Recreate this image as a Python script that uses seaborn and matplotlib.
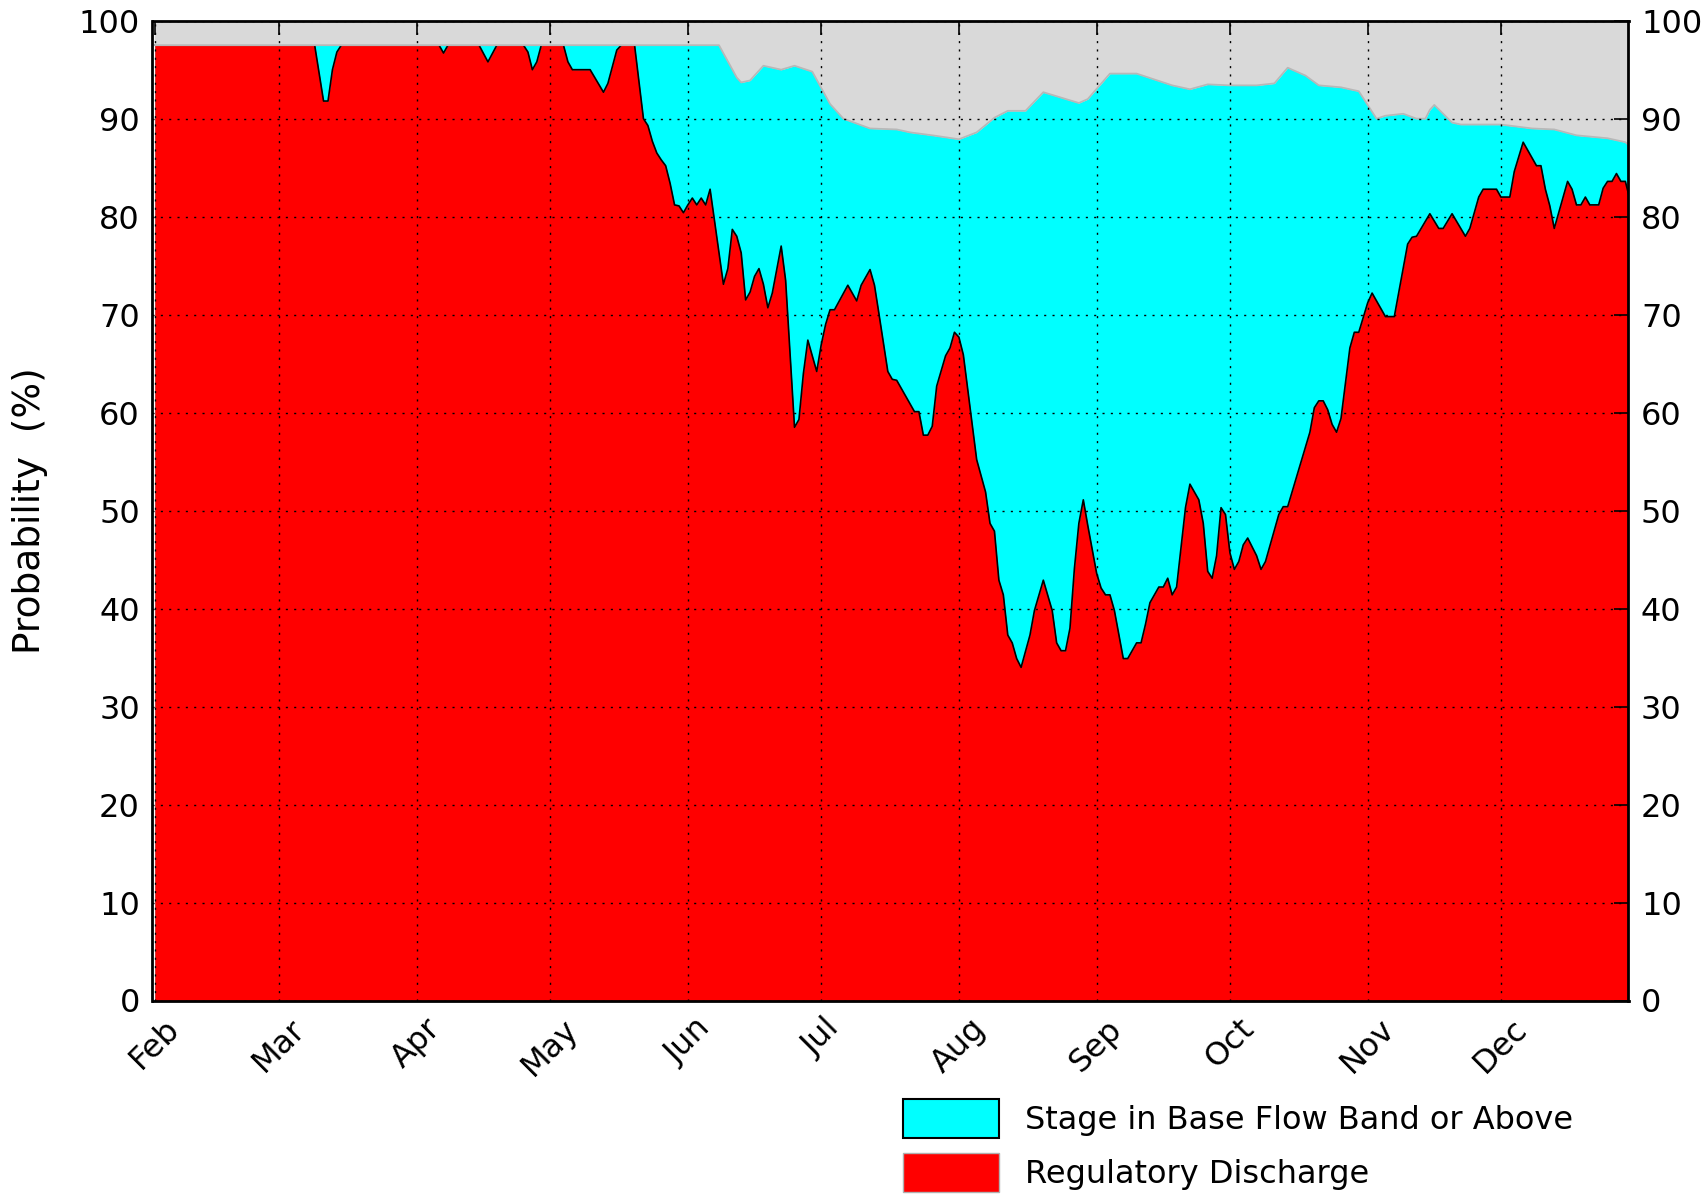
import numpy as np
import pandas as pd
import matplotlib
matplotlib.use("Agg")
import matplotlib.pyplot as plt
import seaborn as sns
from matplotlib.patches import Patch

YEAR = "2015-"

# Regulatory Discharge (top of red area), %
reg_dates = ["02-01", "03-09", "03-11", "03-12", "03-13", "03-14", "03-15",
             "04-06", "04-07", "04-08", "04-15", "04-17", "04-19",
             "04-25", "04-26", "04-27", "04-28", "04-29",
             "05-04", "05-05", "05-06", "05-10", "05-13", "05-14", "05-16", "05-17",
             "05-20", "05-22", "05-23", "05-24", "05-25", "05-26", "05-27", "05-28",
             "05-29", "05-30", "05-31", "06-01", "06-02", "06-03", "06-04", "06-05",
             "06-06", "06-08", "06-09", "06-10", "06-11", "06-12", "06-13", "06-14",
             "06-15", "06-16", "06-17", "06-18", "06-19", "06-20", "06-22", "06-23",
             "06-25", "06-26", "06-27", "06-28", "06-30", "07-01", "07-02", "07-03",
             "07-04", "07-07", "07-09", "07-10", "07-12", "07-13", "07-14", "07-16",
             "07-17", "07-18", "07-22", "07-23", "07-24", "07-25", "07-26", "07-27",
             "07-29", "07-30", "07-31", "08-01", "08-02", "08-05", "08-07", "08-08",
             "08-09", "08-10", "08-11", "08-12", "08-13", "08-14", "08-15", "08-17",
             "08-18", "08-20", "08-22", "08-23", "08-24", "08-25", "08-26", "08-27",
             "08-28", "08-29", "08-30", "09-01", "09-02", "09-03", "09-04", "09-05",
             "09-07", "09-08", "09-10", "09-11", "09-12", "09-13", "09-15", "09-16",
             "09-17", "09-18", "09-19", "09-21", "09-22", "09-24", "09-25", "09-26",
             "09-27", "09-28", "09-29", "09-30", "10-01", "10-02", "10-03", "10-04",
             "10-05", "10-07", "10-08", "10-09", "10-12", "10-13", "10-14", "10-19",
             "10-20", "10-21", "10-22", "10-23", "10-24", "10-25", "10-26", "10-28",
             "10-29", "10-30", "11-01", "11-02", "11-05", "11-07", "11-10", "11-11",
             "11-12", "11-15", "11-17", "11-18", "11-20", "11-23", "11-24", "11-26",
             "11-27", "11-30", "12-01", "12-03", "12-04", "12-06", "12-09", "12-10",
             "12-11", "12-12", "12-13", "12-16", "12-17", "12-18", "12-19", "12-20",
             "12-21", "12-23", "12-24", "12-25", "12-26", "12-27", "12-28", "12-29",
             "12-30"]
reg_values = [97.5, 97.5, 91.8, 91.8, 95.0, 96.8, 97.5,
              97.5, 96.7, 97.5, 97.5, 95.8, 97.5,
              97.5, 96.8, 95.0, 95.8, 97.5,
              97.5, 95.8, 95.0, 95.0, 92.7, 93.6, 97.0, 97.5,
              97.5, 90.0, 89.3, 87.7, 86.5, 85.8, 85.2, 83.4,
              81.2, 81.1, 80.4, 81.2, 81.9, 81.2, 81.9, 81.2,
              82.8, 76.3, 73.1, 74.7, 78.7, 78.0, 76.3, 71.5,
              72.3, 73.9, 74.7, 73.1, 70.7, 72.2, 77.0, 73.5,
              58.5, 59.3, 64.0, 67.4, 64.2, 66.9, 69.0, 70.5,
              70.5, 73.0, 71.4, 73.0, 74.6, 73.0, 70.1, 64.2,
              63.4, 63.3, 60.1, 60.1, 57.7, 57.7, 58.6, 62.7,
              65.8, 66.6, 68.2, 67.7, 65.9, 55.2, 51.9, 48.7,
              47.9, 42.9, 41.4, 37.3, 36.5, 34.9, 34.0, 37.3,
              39.8, 42.9, 39.8, 36.5, 35.7, 35.7, 38.0, 44.1,
              48.7, 51.1, 48.5, 43.6, 42.1, 41.4, 41.4, 39.8,
              34.9, 34.9, 36.5, 36.5, 38.4, 40.6, 42.2, 42.2,
              43.1, 41.4, 42.2, 50.3, 52.7, 51.1, 48.7, 43.8,
              43.1, 45.4, 50.3, 49.6, 45.7, 44.0, 44.8, 46.5,
              47.2, 45.4, 44.0, 44.8, 49.6, 50.4, 50.4, 58.0,
              60.5, 61.2, 61.2, 60.3, 58.8, 58.0, 59.4, 66.6,
              68.2, 68.2, 71.2, 72.2, 69.8, 69.8, 77.2, 77.9,
              78.0, 80.3, 78.8, 78.8, 80.3, 78.0, 78.8, 82.0,
              82.8, 82.8, 82.0, 82.0, 84.6, 87.6, 85.2, 85.2,
              82.8, 81.1, 78.8, 83.6, 82.8, 81.2, 81.2, 82.0,
              81.2, 81.2, 82.9, 83.6, 83.6, 84.4, 83.6, 83.6,
              81.8]

# Stage in Base Flow Band or Above (top of cyan area), %
stage_dates = ["02-01", "06-08", "06-12", "06-13", "06-15", "06-18", "06-22", "06-25",
               "06-29", "07-03", "07-06", "07-12", "07-18", "07-21", "07-26", "08-01",
               "08-05", "08-09", "08-12", "08-16", "08-20", "08-28", "08-30", "09-04",
               "09-10", "09-18", "09-22", "09-26", "10-01", "10-07", "10-11", "10-14",
               "10-18", "10-21", "10-26", "10-30", "11-03", "11-05", "11-09", "11-12",
               "11-14", "11-15", "11-16", "11-20", "11-22", "12-01", "12-08", "12-13",
               "12-18", "12-25", "12-29", "12-30"]
stage_values = [97.5, 97.5, 94.2, 93.7, 93.9, 95.4, 95.0, 95.4,
                94.8, 91.5, 90.0, 89.0, 88.9, 88.6, 88.3, 87.9,
                88.6, 90.1, 90.8, 90.8, 92.7, 91.6, 92.0, 94.6,
                94.6, 93.4, 93.0, 93.5, 93.4, 93.4, 93.6, 95.2,
                94.4, 93.4, 93.2, 92.8, 90.0, 90.3, 90.5, 90.0,
                90.0, 90.9, 91.4, 89.6, 89.4, 89.4, 89.0, 88.9,
                88.3, 88.0, 87.6, 87.2]

month_dates = ["02-01", "03-01", "04-01", "05-01", "06-01", "07-01", "08-01",
               "09-01", "10-01", "11-01", "12-01"]
month_labels = ["Feb", "Mar", "Apr", "May", "Jun", "Jul", "Aug", "Sep", "Oct", "Nov", "Dec"]
y_ticks = [0, 10, 20, 30, 40, 50, 60, 70, 80, 90, 100]
series_names = ["Stage in Base Flow Band or Above", "Regulatory Discharge"]

sns.set_theme(style="white")
plt.rcParams['font.family'] = ['DejaVu Sans']
plt.rcParams['text.color'] = 'black'
plt.rcParams['axes.labelcolor'] = 'black'
plt.rcParams['xtick.color'] = 'black'
plt.rcParams['ytick.color'] = 'black'
plt.rcParams['axes.linewidth'] = 2.0

rx = pd.to_datetime([YEAR + d for d in reg_dates])
ry = np.array(reg_values)
sx = pd.to_datetime([YEAR + d for d in stage_dates])
sy = np.array(stage_values)
mx = pd.to_datetime([YEAR + d for d in month_dates])

fig = plt.figure(figsize=(17.08, 11.94), dpi=100)
ax = fig.add_axes([152.5 / 1708, 1 - 1000.5 / 1194, (1628.5 - 152.5) / 1708, (1000.5 - 20.7) / 1194])

CYAN = "#00ffff"
RED = "#ff0000"
GREY = "#d9d9d9"

ax.fill_between(sx, 0, sy, color=CYAN, lw=0, zorder=1.0)
ax.fill_between(rx, 0, ry, color=RED, lw=0, zorder=1.1)
sns.lineplot(x=rx, y=ry, color="black", lw=1.2, ax=ax, zorder=1.2, legend=False)
ax.fill_between(sx, sy, 100, facecolor=GREY, edgecolor="none", lw=0, zorder=1.3)
sns.lineplot(x=sx, y=sy, color="#b8b8b8", lw=1.3, ax=ax, zorder=1.4, legend=False)

ax.set_ylim(0, 100)
ax.set_xlim(pd.Timestamp(YEAR + "02-01") - pd.Timedelta(hours=12),
            pd.Timestamp(YEAR + "12-29") + pd.Timedelta(hours=17))
ax.set_yticks(y_ticks)
ax.set_yticklabels([str(v) for v in y_ticks])
ax.set_xticks(mx)
ax.set_xticklabels(month_labels, rotation=45)
ax.set_xlabel("")
ax.set_ylabel("Probability  (%)", fontsize=27)
ax.yaxis.set_label_coords(-0.071, 0.5)

ax.grid(True, color="black", lw=1.0, linestyle=(0, (1.5, 4.5)))
ax.set_axisbelow(False)
for s in ax.spines.values():
    s.set_color("black")
    s.set_linewidth(2.0)
ax.tick_params(axis="both", which="major", direction="in", length=10, width=1.2,
               top=True, right=True, labelright=True, labelsize=23, pad=9,
               colors="black")

handles = [Patch(facecolor=CYAN, edgecolor="black", lw=1.5),
           Patch(facecolor=RED, edgecolor="#b0b0b0", lw=1.0)]
fig.legend(handles, series_names, loc="upper left",
           bbox_to_anchor=(881 / 1708, 1 - 1077 / 1194), frameon=False,
           fontsize=23, handlelength=3.0, handleheight=1.47, handletextpad=0.8,
           labelspacing=0.49, borderpad=0.2)

fig.savefig("out.png", dpi=100)
